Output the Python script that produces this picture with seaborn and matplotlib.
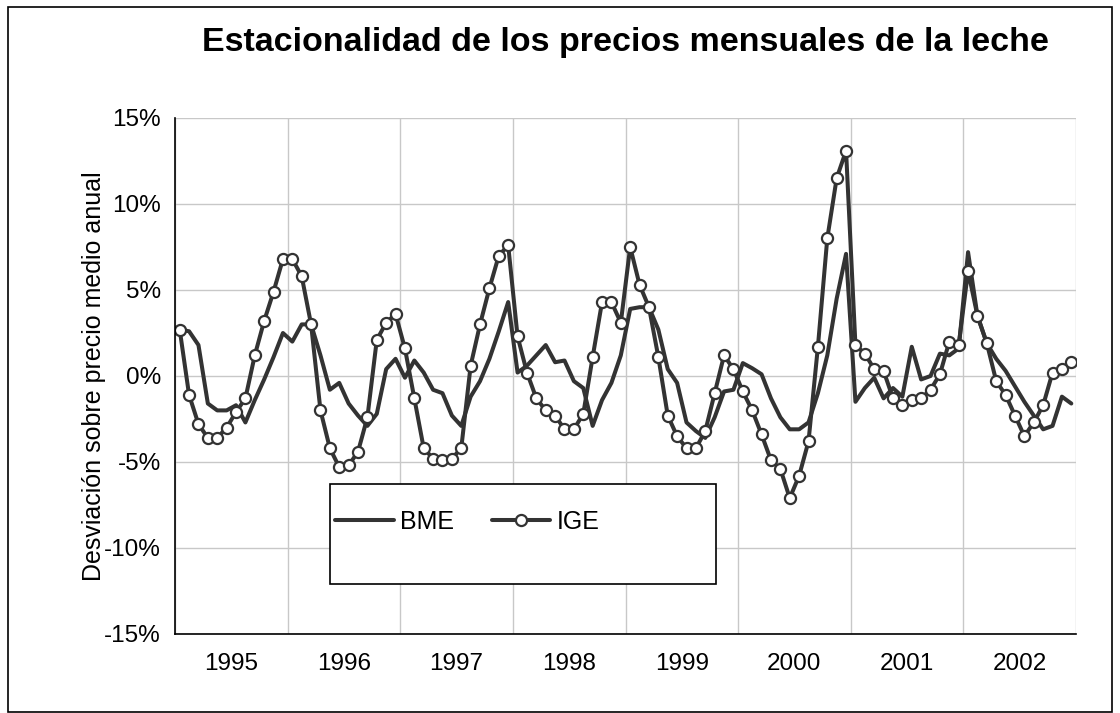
import numpy as np
import pandas as pd
import matplotlib
matplotlib.use("Agg")
import matplotlib.pyplot as plt
import seaborn as sns
from matplotlib.ticker import PercentFormatter, FixedLocator, NullFormatter
from matplotlib.patches import Rectangle

# ## Data (desviacion mensual sobre precio medio anual, %)
years = ['1995', '1996', '1997', '1998', '1999', '2000', '2001', '2002']

bme = [2.7, 2.6, 1.8, -1.6, -2.0, -2.0, -1.7, -2.7, -1.4, -0.2, 1.1, 2.5,
       2.0, 3.0, 3.0, 1.2, -0.8, -0.4, -1.6, -2.3, -2.9, -2.2, 0.4, 1.0,
       -0.1, 0.9, 0.2, -0.8, -1.0, -2.3, -2.9, -1.2, -0.3, 1.0, 2.6, 4.3,
       0.2, 0.6, 1.2, 1.8, 0.8, 0.9, -0.3, -0.7, -2.9, -1.4, -0.4, 1.2,
       3.9, 4.0, 4.0, 2.7, 0.4, -0.4, -2.7, -3.2, -3.6, -2.4, -0.9, -0.8,
       0.75, 0.45, 0.1, -1.3, -2.4, -3.1, -3.1, -2.7, -1.0, 1.2, 4.5, 7.1,
       -1.5, -0.7, -0.1, -1.3, -0.7, -1.2, 1.7, -0.2, 0.0, 1.3, 1.2, 1.6,
       7.2, 3.5, 1.9, 1.0, 0.3, -0.6, -1.5, -2.3, -3.1, -2.9, -1.2, -1.6]

ige = [2.7, -1.1, -2.8, -3.6, -3.6, -3.0, -2.1, -1.3, 1.2, 3.2, 4.9, 6.8,
       6.8, 5.8, 3.0, -2.0, -4.2, -5.3, -5.2, -4.4, -2.4, 2.1, 3.1, 3.6,
       1.6, -1.3, -4.2, -4.8, -4.9, -4.8, -4.2, 0.6, 3.0, 5.1, 7.0, 7.6,
       2.3, 0.2, -1.3, -2.0, -2.3, -3.1, -3.1, -2.2, 1.1, 4.3, 4.3, 3.1,
       7.5, 5.3, 4.0, 1.1, -2.3, -3.5, -4.2, -4.2, -3.2, -1.0, 1.2, 0.4,
       -0.9, -2.0, -3.4, -4.9, -5.4, -7.1, -5.8, -3.8, 1.7, 8.0, 11.5, 13.1,
       1.8, 1.3, 0.4, 0.3, -1.3, -1.7, -1.4, -1.3, -0.8, 0.1, 2.0, 1.8,
       6.1, 3.5, 1.9, -0.3, -1.1, -2.3, -3.5, -2.7, -1.7, 0.2, 0.4, 0.8]

months = np.arange(len(bme))
df = pd.DataFrame({'mes': months, 'BME': bme, 'IGE': ige})

# ## Plot
sns.set_style("white")
plt.rcParams['font.family'] = ['Liberation Sans', 'DejaVu Sans']
plt.rcParams['axes.unicode_minus'] = False
plt.rcParams['text.color'] = 'black'
plt.rcParams['xtick.color'] = 'black'
plt.rcParams['ytick.color'] = 'black'
plt.rcParams['axes.labelcolor'] = 'black'

fig = plt.figure(figsize=(11.2, 7.13), dpi=100)
ax = fig.add_axes([175 / 1120, 79 / 713, 901 / 1120, 516 / 713])

line_color = '#333333'
sns.lineplot(data=df, x='mes', y='BME', ax=ax, color=line_color, linewidth=2.9,
             label='BME')
sns.lineplot(data=df, x='mes', y='IGE', ax=ax, color=line_color, linewidth=2.9,
             marker='o', markersize=8, markerfacecolor='white',
             markeredgecolor=line_color, markeredgewidth=1.6, label='IGE')

ax.set_xlim(-0.5, len(bme) - 0.5)
ax.set_ylim(-15, 15)
ax.set_yticks(np.arange(-15, 16, 5))
ax.yaxis.set_major_formatter(PercentFormatter(decimals=0))

year_edges = np.arange(0, len(bme) + 1, 12) - 0.5
ax.xaxis.set_major_locator(FixedLocator(year_edges))
ax.xaxis.set_major_formatter(NullFormatter())
ax.xaxis.set_minor_locator(FixedLocator(year_edges[:-1] + 6))
ax.set_xticklabels(years, minor=True)
ax.tick_params(axis='x', which='minor', length=0, pad=14, labelsize=17.5)
ax.tick_params(axis='x', which='major', length=7, width=1, direction='out')
ax.tick_params(axis='y', length=6, width=1, direction='out',
               labelsize=17.5, pad=4)

ax.grid(True, which='major', color='#c8c8c8', linewidth=1)
ax.set_axisbelow(True)
for side in ['top', 'right']:
    ax.spines[side].set_visible(False)
for side in ['left', 'bottom']:
    ax.spines[side].set_color('black')
    ax.spines[side].set_linewidth(1.2)

ax.set_xlabel('')
ax.set_ylabel('Desviación sobre precio medio anual', fontsize=18)
ax.yaxis.set_label_coords(-0.077, 0.5)
ax.set_title('Estacionalidad de los precios mensuales de la leche',
             fontsize=24.5, fontweight='bold', pad=48)

# legend box (Excel-style, entries sit to the left of a wider box)
ax.add_patch(Rectangle((0.172, 0.097), 0.428, 0.194, transform=ax.transAxes,
                       facecolor='white', edgecolor='black', linewidth=1.2,
                       zorder=4))
leg = ax.legend(loc='center left', bbox_to_anchor=(0.1776, 0.217),
                ncol=2, fontsize=18, frameon=False, handlelength=2.35,
                borderpad=0, borderaxespad=0, handletextpad=0.25,
                columnspacing=1.5)
leg.set_zorder(5)

fig.patches.append(Rectangle((8 / 1120, 1 / 713), 1104 / 1120, 705 / 713,
                             transform=fig.transFigure, fill=False,
                             edgecolor='black', linewidth=1.2))

fig.savefig('out.png', dpi=100)
